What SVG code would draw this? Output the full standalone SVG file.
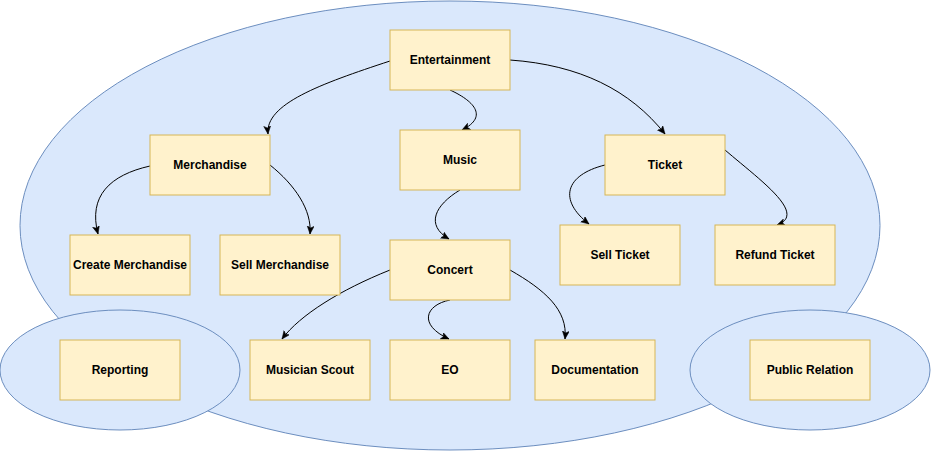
<svg xmlns="http://www.w3.org/2000/svg" width="931" height="451" viewBox="0 0 931 451">
<style>
.area{fill:#dae8fc;stroke:#6c8ebf;stroke-width:1}
.box{fill:#fff2cc;stroke:#d6b656;stroke-width:1}
.lbl{font-family:"Liberation Sans",Arial,sans-serif;font-size:12px;font-weight:bold;fill:#000;text-anchor:middle}
.edge{fill:none;stroke:#000;stroke-width:1}
</style>
<defs>
<marker id="arr" markerUnits="userSpaceOnUse" markerWidth="9" markerHeight="8" refX="8" refY="3.5" orient="auto">
<path d="M0,0 L8,3.5 L0,7 L2,3.5 Z" fill="#000" stroke="#000" stroke-width="0.5"/>
</marker>
</defs>
<rect width="931" height="451" fill="#fff"/>
<g id="areas">
<ellipse id="main-area" class="area" cx="450" cy="225.5" rx="430" ry="224.5"/>
<ellipse id="left-area" class="area" cx="120" cy="370" rx="120" ry="60"/>
<ellipse id="right-area" class="area" cx="810" cy="370" rx="120" ry="60"/>
</g>
<g id="connectors">
<path class="edge" marker-end="url(#arr)" d="M390,61 C320,84 265,104 268,134"/>
<path class="edge" marker-end="url(#arr)" d="M450,90 C472,100 490,116 462,130"/>
<path class="edge" marker-end="url(#arr)" d="M510,60 C580,65 630,90 665,134"/>
<path class="edge" marker-end="url(#arr)" d="M150,166 C110,175 88,196 98,234"/>
<path class="edge" marker-end="url(#arr)" d="M270,165 C295,185 312,210 310,234"/>
<path class="edge" marker-end="url(#arr)" d="M460,190 C435,205 425,225 449,239"/>
<path class="edge" marker-end="url(#arr)" d="M605,165 C565,175 558,200 589,224"/>
<path class="edge" marker-end="url(#arr)" d="M725,150 C760,180 808,214 777,225"/>
<path class="edge" marker-end="url(#arr)" d="M390,270 C340,290 300,315 282,339"/>
<path class="edge" marker-end="url(#arr)" d="M450,300 C425,305 418,325 449,339"/>
<path class="edge" marker-end="url(#arr)" d="M510,270 C545,290 568,310 565,339"/>
</g>
<g id="entertainment"><rect class="box" x="390" y="30" width="120" height="60"/><text class="lbl" x="450" y="64">Entertainment</text></g>
<g id="merchandise"><rect class="box" x="150" y="135" width="120" height="60"/><text class="lbl" x="210" y="169">Merchandise</text></g>
<g id="music"><rect class="box" x="400" y="130" width="120" height="60"/><text class="lbl" x="460" y="164">Music</text></g>
<g id="ticket"><rect class="box" x="605" y="135" width="120" height="60"/><text class="lbl" x="665" y="169">Ticket</text></g>
<g id="create-merchandise"><rect class="box" x="70" y="235" width="120" height="60"/><text class="lbl" x="130" y="269">Create Merchandise</text></g>
<g id="sell-merchandise"><rect class="box" x="220" y="235" width="120" height="60"/><text class="lbl" x="280" y="269">Sell Merchandise</text></g>
<g id="concert"><rect class="box" x="390" y="240" width="120" height="60"/><text class="lbl" x="450" y="274">Concert</text></g>
<g id="sell-ticket"><rect class="box" x="560" y="225" width="120" height="60"/><text class="lbl" x="620" y="259">Sell Ticket</text></g>
<g id="refund-ticket"><rect class="box" x="715" y="225" width="120" height="60"/><text class="lbl" x="775" y="259">Refund Ticket</text></g>
<g id="reporting"><rect class="box" x="60" y="340" width="120" height="60"/><text class="lbl" x="120" y="374">Reporting</text></g>
<g id="musician-scout"><rect class="box" x="250" y="340" width="120" height="60"/><text class="lbl" x="310" y="374">Musician Scout</text></g>
<g id="eo"><rect class="box" x="390" y="340" width="120" height="60"/><text class="lbl" x="450" y="374">EO</text></g>
<g id="documentation"><rect class="box" x="535" y="340" width="120" height="60"/><text class="lbl" x="595" y="374">Documentation</text></g>
<g id="public-relation"><rect class="box" x="750" y="340" width="120" height="60"/><text class="lbl" x="810" y="374">Public Relation</text></g>
</svg>
